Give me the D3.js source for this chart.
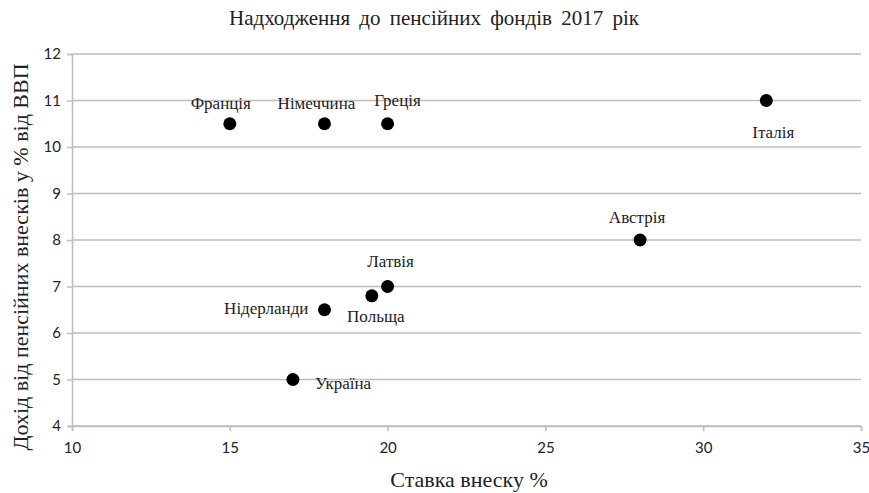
<!DOCTYPE html>
<html>
<head>
<meta charset="utf-8">
<script src="https://cdn.jsdelivr.net/npm/d3@7"></script>
<style>
  body { margin: 0; background: #fff; }
</style>
</head>
<body>
<div id="chart"></div>
<script>
// Data
const countries = ["Франція", "Німеччина", "Греція", "Італія", "Австрія", "Латвія", "Польща", "Нідерланди", "Україна"];
const rates = [15, 18, 20, 32, 28, 20, 19.5, 18, 17];
const incomes = [10.5, 10.5, 10.5, 11, 8, 7, 6.8, 6.5, 5];
const xTicks = [10, 15, 20, 25, 30, 35];
const yTicks = [4, 5, 6, 7, 8, 9, 10, 11, 12];

// label placement relative to each point (dx, dy, anchor)
const labelPos = [
    [-9, -15, "middle"], [-8, -15, "middle"], [10, -18, "middle"],
    [7, 37, "middle"], [-3, -17, "middle"], [3, -20, "middle"],
    [4, 26, "middle"], [-16, 4, "end"], [22, 9, "start"]
];

const serif = "'Liberation Serif', 'DejaVu Serif', 'Times New Roman', serif";
const sans = "Lato, 'Open Sans', sans-serif";

const width = 869, height = 493;
const margin = { left: 72, right: 8, top: 54, bottom: 67 };

const svg = d3.select("#chart").append("svg")
    .attr("width", width)
    .attr("height", height);

const x = d3.scaleLinear().domain([10, 35]).range([margin.left, width - margin.right]);
const y = d3.scaleLinear().domain([4, 12]).range([height - margin.bottom, margin.top]);

// Gridlines
svg.append("g")
    .selectAll("line")
    .data(yTicks)
    .join("line")
    .attr("x1", margin.left)
    .attr("x2", width - margin.right)
    .attr("y1", d => y(d))
    .attr("y2", d => y(d))
    .attr("stroke", "#bdbdbd")
    .attr("stroke-width", 1.5);

// Axes
const xAxis = svg.append("g")
    .attr("transform", `translate(0,${y(4)})`)
    .call(d3.axisBottom(x).tickValues(xTicks).tickSize(5).tickPadding(11));
const yAxis = svg.append("g")
    .attr("transform", `translate(${margin.left},0)`)
    .call(d3.axisLeft(y).tickValues(yTicks).tickSize(5).tickPadding(6));

[xAxis, yAxis].forEach(a => {
    a.select(".domain").attr("stroke", "#bdbdbd").attr("stroke-width", 1.5);
    a.selectAll(".tick line").attr("stroke", "#bdbdbd").attr("stroke-width", 1.5);
    a.selectAll(".tick text")
        .attr("font-family", sans)
        .attr("font-size", 15)
        .attr("fill", "#222");
});

// Points
svg.append("g")
    .selectAll("circle")
    .data(countries)
    .join("circle")
    .attr("cx", (d, i) => x(rates[i]))
    .attr("cy", (d, i) => y(incomes[i]))
    .attr("r", 6.5)
    .attr("fill", "#000");

// Point labels
svg.append("g")
    .selectAll("text")
    .data(countries)
    .join("text")
    .attr("font-family", serif)
    .attr("font-size", 17)
    .attr("fill", "#222")
    .attr("x", (d, i) => x(rates[i]) + labelPos[i][0])
    .attr("y", (d, i) => y(incomes[i]) + labelPos[i][1])
    .attr("text-anchor", (d, i) => labelPos[i][2])
    .text(d => d);

// Titles
svg.append("text")
    .attr("font-family", serif)
    .attr("fill", "#222")
    .attr("x", 434)
    .attr("y", 25)
    .attr("text-anchor", "middle")
    .attr("font-size", 21)
    .attr("word-spacing", 4)
    .text("Надходження до пенсійних фондів 2017 рік");

svg.append("text")
    .attr("font-family", serif)
    .attr("fill", "#222")
    .attr("x", 469)
    .attr("y", 487)
    .attr("text-anchor", "middle")
    .attr("font-size", 22)
    .text("Ставка внеску %");

svg.append("text")
    .attr("font-family", serif)
    .attr("fill", "#222")
    .attr("transform", "translate(28,257) rotate(-90)")
    .attr("text-anchor", "middle")
    .attr("font-size", 22)
    .text("Дохід від пенсійних внесків у % від ВВП");
</script>
</body>
</html>
